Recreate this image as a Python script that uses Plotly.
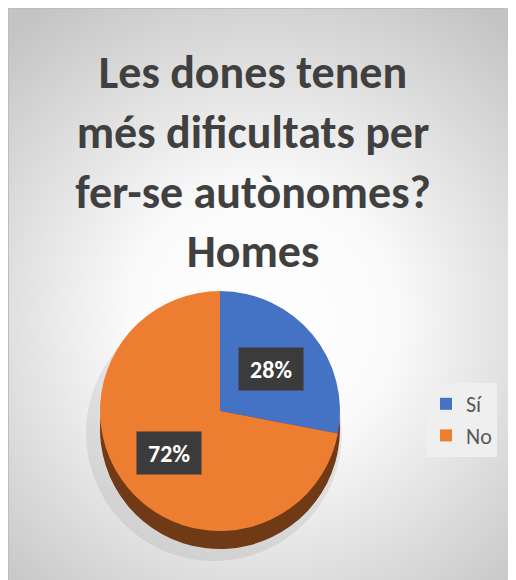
import base64
import math
import plotly.graph_objects as go

# ---- data ----
labels = ["Sí", "No"]
values = [28, 72]
colors = ["#4472C4", "#ED7D31"]
title_lines = ["Les dones tenen", "més dificultats per", "fer-se autònomes?", "Homes"]

W, H = 516, 580
FONT = "Carlito, Lato, 'Open Sans', sans-serif"

# pie geometry (pixels, figure coordinates)
cx, cy, R = 212, 403, 120
depth = 18

def dom(cx_, cy_, r_):
    return dict(x=[(cx_ - r_) / W, (cx_ + r_) / W],
                y=[1 - (cy_ + r_) / H, 1 - (cy_ - r_) / H])

# background: radial gradient as svg image
svg = f'''<svg xmlns="http://www.w3.org/2000/svg" width="{W}" height="{H}" viewBox="0 0 {W} {H}">
<defs><radialGradient id="g" gradientUnits="userSpaceOnUse" cx="254" cy="312" r="380">
<stop offset="0" stop-color="#ffffff"/><stop offset="0.35" stop-color="#fafafa"/>
<stop offset="1" stop-color="#c4c4c4"/></radialGradient></defs>
<rect x="0.5" y="0.5" width="{W+10}" height="{H+10}" fill="url(#g)" stroke="#bdbdbd" stroke-width="1"/>
</svg>'''
bg_src = "data:image/svg+xml;base64," + base64.b64encode(svg.encode()).decode()

fig = go.Figure()

# soft shadow
fig.add_trace(go.Pie(labels=labels, values=values, sort=False, direction="clockwise",
                     marker=dict(colors=["rgba(0,0,0,0.07)"] * 2, line=dict(width=0)),
                     domain=dom(cx - 6, cy + depth + 4, R + 8), textinfo="none",
                     hoverinfo="skip", showlegend=False))
# side (extrusion)
fig.add_trace(go.Pie(labels=labels, values=values, sort=False, direction="clockwise",
                     marker=dict(colors=["#6f3a15", "#6f3a15"], line=dict(width=0)),
                     domain=dom(cx, cy + depth, R), textinfo="none",
                     hoverinfo="skip", showlegend=False))
# top face
fig.add_trace(go.Pie(labels=labels, values=values, sort=False, direction="clockwise",
                     rotation=0, marker=dict(colors=colors, line=dict(width=0)),
                     domain=dom(cx, cy, R), textinfo="none", showlegend=True))

# data labels with dark boxes, positioned at the slice mid-angles
total = sum(values)
cum = 0
for v in values:
    mid = (cum + v / 2) / total
    cum += v
    th = 2 * math.pi * mid
    k = 0.55
    px = cx + k * R * math.sin(th)
    py = cy - k * R * math.cos(th)
    fig.add_annotation(x=px / W, y=1 - py / H, xref="paper", yref="paper",
                       xanchor="center", yanchor="middle",
                       text=f"<b>{round(v / total * 100)}%</b>", showarrow=False,
                       font=dict(family=FONT, size=24, color="#ffffff"),
                       bgcolor="#3b3b3b", width=62, height=40)

fig.update_layout(
    width=W, height=H, margin=dict(l=0, r=0, t=0, b=0),
    paper_bgcolor="#ffffff", plot_bgcolor="rgba(0,0,0,0)",
    images=[dict(source=bg_src, xref="paper", yref="paper", x=0, y=1, sizex=1, sizey=1,
                 xanchor="left", yanchor="top", sizing="stretch", layer="below")],
    title=dict(text="<b>" + "<br>".join(title_lines) + "</b>", x=245 / W, xanchor="center",
               y=1 - 80 / H, yanchor="top",
               font=dict(family=FONT, size=46, color="#404040")),
    legend=dict(x=418 / W, y=1 - 375 / H, xanchor="left", yanchor="top",
                bgcolor="#efefef", font=dict(family=FONT, size=22, color="#595959")),
)

fig.write_html("out.html")
